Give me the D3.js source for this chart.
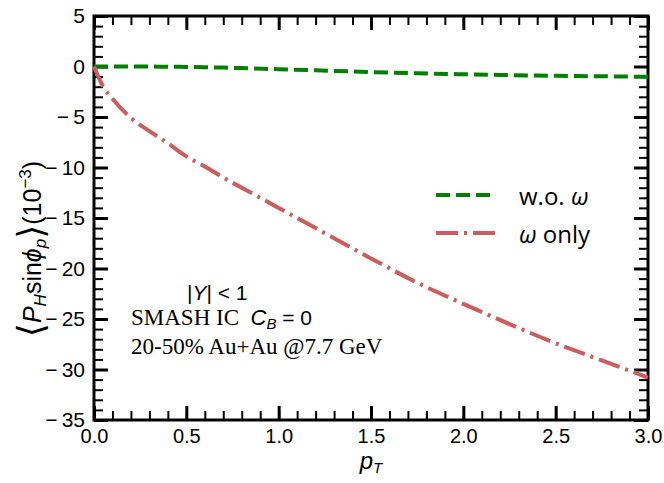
<!DOCTYPE html>
<html>
<head>
<meta charset="utf-8">
<script src="https://cdn.jsdelivr.net/npm/d3@7"></script>
<style>
  body { margin: 0; background: #fff; }
</style>
</head>
<body>
<div id="chart"></div>
<script>
// values
const pT = [0, 0.05, 0.1, 0.2, 0.3, 0.4, 0.5, 0.6, 0.7, 0.8, 1.0, 1.2, 1.5, 1.75, 2.0, 2.25, 2.5, 2.75, 3.0];
const woOmega = [0, 0, 0, 0, -0.01, -0.02, -0.04, -0.07, -0.11, -0.16, -0.27, -0.38, -0.55, -0.67, -0.77, -0.85, -0.92, -0.97, -1.02];
const omegaOnly = [0, -2.0, -3.2, -5.1, -6.4, -7.6, -8.9, -9.9, -11.0, -12.0, -14.0, -16.0, -19.0, -21.4, -23.5, -25.5, -27.4, -29.1, -30.8];
const xTicks = [0, 0.5, 1.0, 1.5, 2.0, 2.5, 3.0];
const yTicks = [5, 0, -5, -10, -15, -20, -25, -30, -35];

const width = 664;
const height = 483;
const plotL = 94, plotR = 648, plotT = 16, plotB = 420;
const sans = "Liberation Sans, Arial, sans-serif";
const serif = "Liberation Serif, Times New Roman, serif";

const svg = d3.select("#chart")
    .append("svg")
    .attr("width", width)
    .attr("height", height)
    .attr("font-family", sans);

const x = d3.scaleLinear().domain([0, 3]).range([plotL, plotR]);
const y = d3.scaleLinear().domain([-35, 5]).range([plotB, plotT]);

const xMinor = d3.range(0, 3.0001, 0.1);
const yMinor = d3.range(-35, 5.0001, 1);

function styleAxis(g, w) {
    g.select(".domain").remove();
    g.selectAll(".tick line").attr("stroke", "#000").attr("stroke-width", w);
}

// minor ticks on all four sides
svg.append("g").attr("transform", `translate(0,${plotB})`)
    .call(d3.axisBottom(x).tickValues(xMinor).tickSize(-9).tickFormat(""))
    .call(g => styleAxis(g, 2));
svg.append("g").attr("transform", `translate(0,${plotT})`)
    .call(d3.axisTop(x).tickValues(xMinor).tickSize(-9).tickFormat(""))
    .call(g => styleAxis(g, 2));
svg.append("g").attr("transform", `translate(${plotL},0)`)
    .call(d3.axisLeft(y).tickValues(yMinor).tickSize(-9).tickFormat(""))
    .call(g => styleAxis(g, 2));
svg.append("g").attr("transform", `translate(${plotR},0)`)
    .call(d3.axisRight(y).tickValues(yMinor).tickSize(-9).tickFormat(""))
    .call(g => styleAxis(g, 2));

// major ticks
svg.append("g").attr("transform", `translate(0,${plotB})`)
    .call(d3.axisBottom(x).tickValues(xTicks).tickSize(-14).tickPadding(9).tickFormat(d3.format(".1f")))
    .call(g => styleAxis(g, 3))
    .call(g => g.selectAll("text").attr("font-size", 20).attr("fill", "#000").attr("font-family", sans));
svg.append("g").attr("transform", `translate(0,${plotT})`)
    .call(d3.axisTop(x).tickValues(xTicks).tickSize(-14).tickFormat(""))
    .call(g => styleAxis(g, 3));
svg.append("g").attr("transform", `translate(${plotL},0)`)
    .call(d3.axisLeft(y).tickValues(yTicks).tickSize(-14).tickPadding(9)
        .tickFormat(d => d < 0 ? "\u2212\u2009" + Math.abs(d) : String(d)))
    .call(g => styleAxis(g, 3))
    .call(g => g.selectAll("text").attr("font-size", 21).attr("fill", "#000").attr("font-family", sans));
svg.append("g").attr("transform", `translate(${plotR},0)`)
    .call(d3.axisRight(y).tickValues(yTicks).tickSize(-14).tickFormat(""))
    .call(g => styleAxis(g, 3));

// frame
svg.append("rect")
    .attr("x", plotL).attr("y", plotT)
    .attr("width", plotR - plotL).attr("height", plotB - plotT)
    .attr("fill", "none")
    .attr("stroke", "#000")
    .attr("stroke-width", 3);

// curves
const line = d3.line()
    .x(d => x(d[0]))
    .y(d => y(d[1]))
    .curve(d3.curveMonotoneX);

svg.append("path")
    .datum(pT.map((p, i) => [p, woOmega[i]]))
    .attr("d", line)
    .attr("fill", "none")
    .attr("stroke", "#008000")
    .attr("stroke-width", 4)
    .attr("stroke-dasharray", "14,6");

svg.append("path")
    .datum(pT.map((p, i) => [p, omegaOnly[i]]))
    .attr("d", line)
    .attr("fill", "none")
    .attr("stroke", "#cd5c5c")
    .attr("stroke-width", 4)
    .attr("stroke-dasharray", "22,6,3,6");

// legend
const legend = [
    { label: "w.o. ", color: "#008000", dash: "14,6", ly: 195 },
    { label: " only", color: "#cd5c5c", dash: "22,6,3,6", ly: 233 }
];
legend.forEach((d, i) => {
    svg.append("line")
        .attr("x1", 436).attr("x2", 496)
        .attr("y1", d.ly).attr("y2", d.ly)
        .attr("stroke", d.color)
        .attr("stroke-width", 4)
        .attr("stroke-dasharray", d.dash);
    const t = svg.append("text")
        .attr("x", 519).attr("y", d.ly + 10)
        .attr("font-size", 24)
        .attr("font-family", "Open Sans, DejaVu Sans, sans-serif");
    if (i === 0) {
        t.append("tspan").text(d.label);
        t.append("tspan").attr("font-style", "italic").text("ω");
    } else {
        t.append("tspan").attr("font-style", "italic").text("ω");
        t.append("tspan").text(d.label);
    }
});

// annotations
const ann1 = svg.append("text").attr("x", 187).attr("y", 300).attr("font-size", 21);
ann1.append("tspan").text("|");
ann1.append("tspan").attr("font-style", "italic").text("Y");
ann1.append("tspan").text("| < 1");

const ann2 = svg.append("text").attr("x", 131).attr("y", 325).attr("font-size", 23)
    .attr("font-family", serif);
ann2.append("tspan").text("SMASH IC\u00a0\u00a0");
ann2.append("tspan").attr("font-family", sans).attr("font-style", "italic").attr("font-size", 22).text("C");
ann2.append("tspan").attr("font-family", sans).attr("font-style", "italic")
    .attr("font-size", 15).attr("dy", 4).text("B");
ann2.append("tspan").attr("font-family", sans).attr("font-size", 21).attr("dy", -4).text(" = 0");

svg.append("text").attr("x", 131).attr("y", 354).attr("font-size", 23)
    .attr("font-family", serif)
    .text("20-50% Au+Au @7.7 GeV");

// x label
const xl = svg.append("text").attr("x", 371).attr("y", 469).attr("text-anchor", "middle").attr("font-size", 24);
xl.append("tspan").attr("font-style", "italic").text("p");
xl.append("tspan").attr("font-style", "italic").attr("font-size", 15).attr("dy", 4).text("T");

// y label
const yl = svg.append("text")
    .attr("transform", "translate(41,249) rotate(-90)")
    .attr("text-anchor", "middle")
    .attr("font-size", 25);
yl.append("tspan").attr("font-family", "DejaVu Sans, sans-serif").attr("font-size", 36).attr("dy", 2).text("⟨");
yl.append("tspan").attr("font-style", "italic").attr("dy", -2).text("P");
yl.append("tspan").attr("font-style", "italic").attr("font-size", 17).attr("dy", 5).text("H");
yl.append("tspan").attr("dy", -5).text("sin");
yl.append("tspan").attr("font-style", "italic").text("ϕ");
yl.append("tspan").attr("font-style", "italic").attr("font-size", 17).attr("dy", 5).text("p");
yl.append("tspan").attr("font-family", "DejaVu Sans, sans-serif").attr("font-size", 36).attr("dy", -3).text("⟩");
yl.append("tspan").attr("dy", -2).text("(10");
yl.append("tspan").attr("font-size", 17).attr("dy", -10).text("−3");
yl.append("tspan").attr("dy", 10).text(")");
</script>
</body>
</html>
